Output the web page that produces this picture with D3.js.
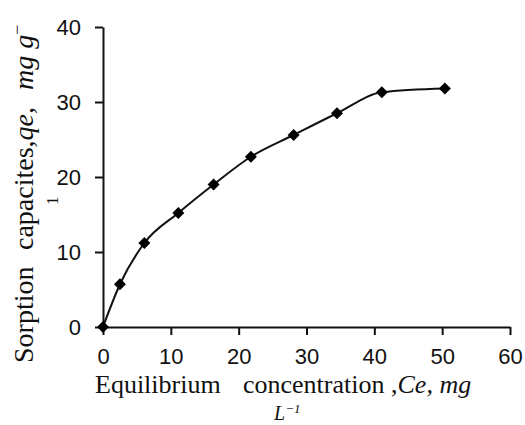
<!DOCTYPE html>
<html lang="en">
<head>
    <meta charset="UTF-8">
    <title>Sorption isotherm</title>
    <script src="https://cdn.jsdelivr.net/npm/d3@7"></script>
    <style>
        body { margin: 0; background: #fff; }
        .tick text { font-family: "Liberation Sans", Arial, sans-serif; }
        .lbl { font-family: "Liberation Serif", "Times New Roman", serif; fill: #111; }
    </style>
</head>
<body>
<script>
    // data
    var ce = [0, 2.5, 6.1, 11.1, 16.3, 21.8, 28.1, 34.5, 41.1, 50.4];
    var qe = [0, 5.7, 11.2, 15.2, 19.0, 22.7, 25.6, 28.5, 31.3, 31.8];
    var xTicks = [0, 10, 20, 30, 40, 50, 60];
    var yTicks = [0, 10, 20, 30, 40];

    var w = 525, h = 425;

    var x = d3.scaleLinear().domain([0, 60]).range([103, 510]);
    var y = d3.scaleLinear().domain([0, 40]).range([327, 27]);

    var svg = d3.select("body").append("svg")
        .attr("width", w)
        .attr("height", h);

    // axes
    svg.append("g")
        .attr("transform", "translate(0," + y(0) + ")")
        .call(d3.axisBottom(x).tickValues(xTicks).tickSize(8).tickSizeOuter(0).tickPadding(13));
    svg.append("g")
        .attr("transform", "translate(" + x(0) + ",0)")
        .call(d3.axisLeft(y).tickValues(yTicks).tickSize(8).tickSizeOuter(0).tickPadding(14));

    svg.selectAll(".domain").attr("stroke", "#111").attr("stroke-width", 2);
    svg.selectAll(".tick line").attr("stroke", "#111").attr("stroke-width", 2);
    svg.selectAll(".tick text").attr("font-size", "22px").attr("fill", "#111");

    // smoothed line
    var pts = ce.map(function(d, i) { return [d, qe[i]]; });
    var line = d3.line()
        .x(function(d) { return x(d[0]); })
        .y(function(d) { return y(d[1]); })
        .curve(d3.curveMonotoneX);

    svg.append("path")
        .datum(pts)
        .attr("d", line)
        .attr("fill", "none")
        .attr("stroke", "#111")
        .attr("stroke-width", 2);

    // diamond markers
    svg.selectAll(".pt")
        .data(pts)
        .enter()
        .append("path")
        .attr("class", "pt")
        .attr("d", d3.symbol().type(d3.symbolSquare).size(72))
        .attr("transform", function(d) {
            return "translate(" + x(d[0]) + "," + y(d[1]) + ") rotate(45)";
        })
        .attr("fill", "#000");

    // x label
    var xl = svg.append("text").attr("class", "lbl").attr("font-size", "26px").attr("y", 393);
    xl.append("tspan").attr("x", 95).text("Equilibrium");
    xl.append("tspan").attr("x", 243).text("concentration ,");
    xl.append("tspan").attr("font-style", "italic").text("Ce, mg");

    var xl2 = svg.append("text").attr("class", "lbl").attr("font-size", "20px")
        .attr("x", 274).attr("y", 420).attr("font-style", "italic");
    xl2.append("tspan").text("L");
    xl2.append("tspan").attr("font-size", "13px").attr("dy", -7).text("\u22121");

    // y label (rotated)
    var yl = svg.append("text").attr("class", "lbl").attr("font-size", "28px")
        .attr("transform", "rotate(-90)").attr("y", 33);
    yl.append("tspan").attr("x", -363).text("Sorption");
    yl.append("tspan").attr("x", -250).text("capacites,");
    yl.append("tspan").attr("font-style", "italic").text("qe, ");
    yl.append("tspan").attr("x", -90).attr("font-style", "italic").text("mg g");
    yl.append("tspan").attr("font-size", "18px").attr("dy", -10).text("\u2212");

    svg.append("text").attr("class", "lbl").attr("font-size", "17px")
        .attr("transform", "rotate(-90)")
        .attr("x", -205).attr("y", 58)
        .text("1");
</script>
</body>
</html>
